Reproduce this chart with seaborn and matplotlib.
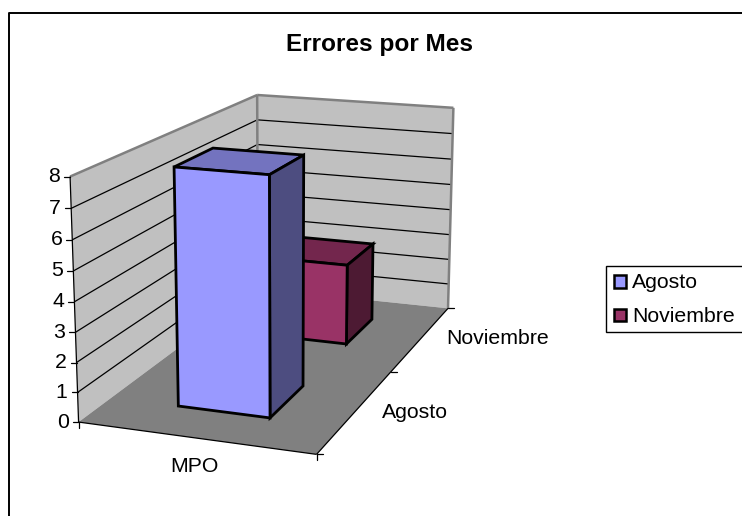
import numpy as np
import matplotlib
matplotlib.use("Agg")
import matplotlib.pyplot as plt
from matplotlib.patches import Polygon, Rectangle
import seaborn as sns

# --- data ---
title = "Errores por Mes"
categories = ["MPO"]
series_names = ["Agosto", "Noviembre"]
agosto_values = [8]
noviembre_values = [3]
value_ticks = [0, 1, 2, 3, 4, 5, 6, 7, 8]

# --- colours ---
front_cols = ["#9999FF", "#993366"]
top_cols = ["#7373BF", "#73264D"]
side_cols = ["#4D4D80", "#4D1A33"]
wall_col = "#C0C0C0"
wall_edge = "#808080"
floor_col = "#808080"

sns.set_theme(style="white", rc={"font.family": ["Liberation Sans", "DejaVu Sans"]})
W, H = 742, 516
fig = plt.figure(figsize=(W / 100, H / 100), dpi=100)
ax = fig.add_axes([0, 0, 1, 1])
ax.set_xlim(0, W)
ax.set_ylim(H, 0)
ax.axis("off")

zmax = max(value_ticks)
ndepth = len(series_names)
ncat = len(categories)

# perspective scale: world (category, depth, value) -> canvas, calibrated on the chart box corners
world = np.array([[0, 0, 0], [0, 0, zmax], [ncat, 0, 0], [ncat, ndepth, 0],
                  [ncat, ndepth, zmax], [0, ndepth, zmax], [0, ndepth, 0]], float)
canvas = np.array([[78.5, 422], [70, 176.7], [316.7, 454.3], [448, 308.5],
                   [453.3, 107.7], [257.3, 95], [258, 288.5]], float)
A, b = [], []
for (X, Y, Z), (u, v) in zip(world, canvas):
    A.append([X, Y, Z, 1, 0, 0, 0, 0, -u * X, -u * Y, -u * Z])
    A.append([0, 0, 0, 0, X, Y, Z, 1, -v * X, -v * Y, -v * Z])
    b += [u, v]
m = np.linalg.lstsq(np.array(A), np.array(b), rcond=None)[0]
P = np.append(m, 1).reshape(3, 4)


def proj(x, y, z):
    q = P @ np.array([x, y, z, 1.0])
    return q[0] / q[2], q[1] / q[2]


def face(pts, fc, ec="none", lw=0, z=1):
    ax.add_patch(Polygon([proj(*p) for p in pts], closed=True, fc=fc, ec=ec, lw=lw, zorder=z,
                         joinstyle="miter"))


def seg(p, q, color="black", lw=1.0, z=2):
    a, c = proj(*p), proj(*q)
    ax.plot([a[0], c[0]], [a[1], c[1]], color=color, lw=lw, zorder=z, solid_capstyle="butt")


# walls and floor
face([(0, 0, 0), (0, ndepth, 0), (0, ndepth, zmax), (0, 0, zmax)], wall_col)
face([(0, ndepth, 0), (ncat, ndepth, 0), (ncat, ndepth, zmax), (0, ndepth, zmax)], wall_col)
face([(0, 0, 0), (ncat, 0, 0), (ncat, ndepth, 0), (0, ndepth, 0)], floor_col)

# gridlines
for t in value_ticks[1:-1]:
    seg((0, 0, t), (0, ndepth, t), lw=0.9)
    seg((0, ndepth, t), (ncat, ndepth, t), lw=0.9)

# wall edges
for p, q in [((0, 0, zmax), (0, ndepth, zmax)), ((0, ndepth, zmax), (ncat, ndepth, zmax)),
             ((0, ndepth, zmax), (0, ndepth, 0)), ((ncat, ndepth, zmax), (ncat, ndepth, 0))]:
    seg(p, q, color=wall_edge, lw=1.8)

# axes and ticks
seg((0, 0, 0), (0, 0, zmax), lw=0.9, z=3)
seg((0, 0, 0), (ncat, 0, 0), lw=0.9, z=3)
seg((ncat, 0, 0), (ncat, ndepth, 0), lw=0.9, z=3)
for t in value_ticks:
    u, v = proj(0, 0, t)
    ax.plot([u - 6, u], [v, v], color="black", lw=0.9, zorder=3)
    ax.text(u - 10, v, str(t), ha="right", va="center", fontsize=15.3, color="black")
for c in range(ncat + 1):
    u, v = proj(c, 0, 0)
    ax.plot([u, u], [v, v + 6], color="black", lw=0.9, zorder=3)
for d in range(ndepth + 1):
    u, v = proj(ncat, d, 0)
    ax.plot([u, u + 6], [v, v], color="black", lw=0.9, zorder=3)

ax.text(194, 466, categories[0], ha="center", va="center", fontsize=15.3, color="black")
ax.text(414.5, 412, series_names[0], ha="center", va="center", fontsize=15.3, color="black")
ax.text(498, 339, series_names[1], ha="center", va="center", fontsize=15.3, color="black")


def bar(c, d, value, idx):
    x0, x1 = c + 0.3, c + 0.7
    y0, y1 = d + 0.3, d + 0.7
    kw = dict(ec="black", lw=2.0, z=5 + (ndepth - d))
    face([(x0, y0, value), (x1, y0, value), (x1, y1, value), (x0, y1, value)], top_cols[idx], **kw)
    face([(x1, y0, 0), (x1, y1, 0), (x1, y1, value), (x1, y0, value)], side_cols[idx], **kw)
    face([(x0, y0, 0), (x1, y0, 0), (x1, y0, value), (x0, y0, value)], front_cols[idx], **kw)


bar(0, 1, noviembre_values[0], 1)
bar(0, 0, agosto_values[0], 0)

# title
ax.text(380, 44.5, title, ha="center", va="center", fontsize=17.6, fontweight="bold", color="black")

# legend
ax.add_patch(Rectangle((605.5, 265.5), 140, 66, fc="white", ec="black", lw=1.0, zorder=6))
for name, col, yy in zip(series_names, front_cols, [281.5, 314.8]):
    ax.add_patch(Rectangle((613.5, yy - 6.3), 12.6, 12.6, fc=col, ec="black", lw=1.8, zorder=7))
    ax.text(632, yy + 1.5, name, ha="left", va="center", fontsize=15.3, color="black", zorder=7)

# chart frame
ax.plot([9, 9, W], [H, 12.7, 12.7], color="black", lw=1.4, zorder=8, solid_capstyle="butt")

fig.savefig("out.png", dpi=100)
